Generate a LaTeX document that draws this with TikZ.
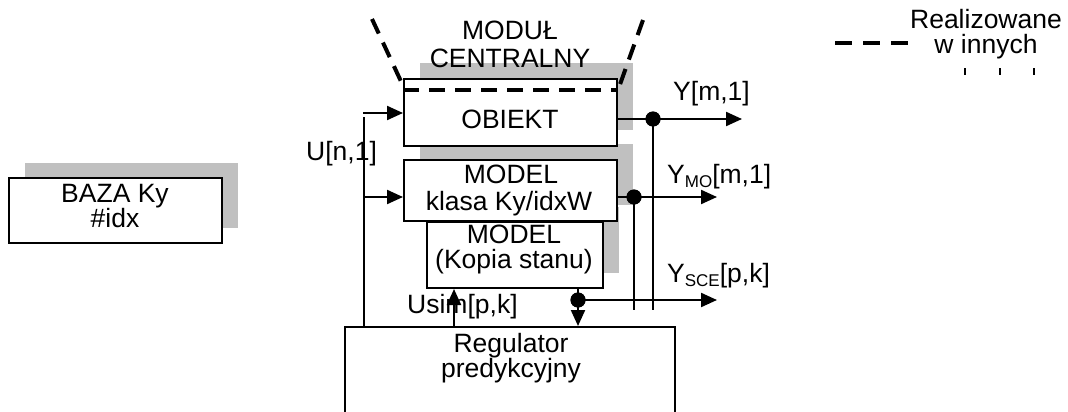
\documentclass[tikz,border=0pt]{standalone}
\usepackage{fontspec}
\setmainfont{Liberation Sans}
\usetikzlibrary{arrows.meta}
\definecolor{shadowgray}{RGB}{192,192,192}
\begin{document}
\begin{tikzpicture}[x=1pt,y=-1pt,
  box/.style={draw, line width=2pt, fill=white, rectangle, inner sep=0pt},
  shadowbox/.style={fill=shadowgray, draw=none, rectangle, inner sep=0pt},
  lbl/.style={inner sep=0pt, anchor=base, font=\fontsize{26.5}{26.5}\selectfont},
  wire/.style={line width=2.2pt},
  arr/.style={wire, -{Triangle[length=16pt,width=14pt]}},
  dotnode/.style={circle, fill=black, inner sep=0pt, minimum size=15pt},
  dashln/.style={line width=4pt, dash pattern=on 16pt off 10pt}]
\useasboundingbox (0,0) rectangle (1068,412);
\clip (0,0) rectangle (1068,412);
% shadows
\node[shadowbox, minimum width=213pt, minimum height=65pt] (bazaS) at (131.5,195.5) {};
\node[shadowbox, minimum width=213pt, minimum height=67pt] (obiektS) at (526.5,96.5) {};
\node[shadowbox, minimum width=213pt, minimum height=61pt] (modelS) at (526.5,174.5) {};
\node[shadowbox, minimum width=176pt, minimum height=66pt] (kopiaS) at (531,240) {};
% boxes
\node[box, minimum width=213pt, minimum height=65pt] (baza) at (115.5,210.5) {};
\node[box, minimum width=213pt, minimum height=67pt] (obiekt) at (510.5,112.5) {};
\node[box, minimum width=176pt, minimum height=66pt] (kopia) at (515,255) {};
\node[box, minimum width=213pt, minimum height=61pt] (model) at (510.5,190.5) {};
\node[box, minimum width=330pt, minimum height=113pt] (reg) at (510,383.5) {};
% texts
\node[lbl] (tmod1) at (510,40) {MODUŁ};
\node[lbl] (tmod2) at (510,67) {CENTRALNY};
\node[lbl] (tobj) at (510,128) {OBIEKT};
\node[lbl] (tmdl1) at (511,183) {MODEL};
\node[lbl] (tmdl2) at (509,210) {klasa Ky/idxW};
\node[lbl] (tkop1) at (514,243) {MODEL};
\node[lbl] (tkop2) at (514,268) {(Kopia stanu)};
\node[lbl] (tbaz1) at (115,202) {BAZA Ky};
\node[lbl] (tbaz2) at (115,227) {\#idx};
\node[lbl] (treg1) at (511,352) {Regulator};
\node[lbl] (treg2) at (511,377) {predykcyjny};
\node[lbl, anchor=base west] (tu) at (306,160) {U[n,1]};
\node[lbl, anchor=base west] (ty) at (673,100) {Y[m,1]};
\node[lbl, anchor=base west] (tymo) at (667,183) {Y\raisebox{-4pt}{\fontsize{17}{17}\selectfont MO}[m,1]};
\node[lbl, anchor=base west] (tysce) at (667,282) {Y\raisebox{-4pt}{\fontsize{17}{17}\selectfont SCE}[p,k]};
\node[lbl, anchor=base west] (tusim) at (407,313) {Usim[p,k]};
\node[lbl] (tleg1) at (986,29) {Realizowane};
\node[lbl] (tleg2) at (986,53) {w innych};
% coordinates
\coordinate (uA) at (363,113);
\coordinate (uTop) at (364,117);
\coordinate (uB) at (364,197);
\coordinate (yA) at (742,119);
\coordinate (yB) at (717,197);
\coordinate (yC) at (717,300);
\coordinate (vA) at (653,310);
\coordinate (vB) at (634,310);
\coordinate (usimX) at (454,300);
\coordinate (dLtop) at (372,19);
\coordinate (dLbot) at (405,90);
\coordinate (dRtop) at (643,20);
\coordinate (dRbot) at (618,90);
\coordinate (legA) at (835,43);
\coordinate (legB) at (908,43);
% dots
\node[dotnode] (dA) at (653,119) {};
\node[dotnode] (dB) at (634,197) {};
\node[dotnode] (dC) at (578,300) {};
% connectors
\draw[wire] (uTop) -- (uTop |- reg.north);
\draw[arr] (uA) -- (uA -| obiekt.west);
\draw[arr] (uB) -- (uB -| model.west);
\draw[arr] (yA -| obiekt.east) -- (yA);
\draw[wire] (dA.center) -- (vA);
\draw[arr] (yB -| model.east) -- (yB);
\draw[wire] (dB.center) -- (vB);
\draw[wire] (dC |- kopia.south) -- (dC.center);
\draw[arr] (dC.center) -- (dC |- reg.north);
\draw[arr] (dC.center) -- (yC);
\draw[arr] (usimX |- reg.north) -- (usimX |- kopia.south);
\node[dotnode] at (dA) {};
\node[dotnode] at (dB) {};
\node[dotnode] at (dC) {};
% dashed boundary
\draw[dashln] (dLtop) -- (dLbot);
\draw[dashln] (dRtop) -- (dRbot);
\draw[dashln] (dLbot -| obiekt.west) -- (dRbot -| obiekt.east);
% legend
\draw[line width=4pt, dash pattern=on 17pt off 11pt] (legA) -- (legB);
\fill (964,68) rectangle (966,75);
\fill (999,68) rectangle (1001,75);
\fill (1033,68) rectangle (1035,75);
\end{tikzpicture}
\end{document}
